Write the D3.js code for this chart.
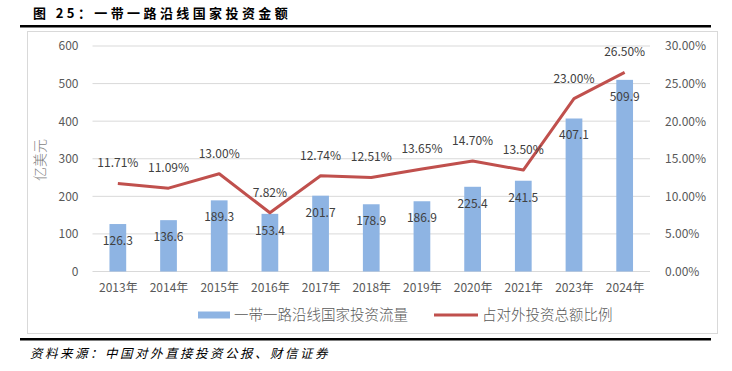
<!DOCTYPE html>
<html><head><meta charset="utf-8">
<script src="https://cdn.jsdelivr.net/npm/d3@7/dist/d3.min.js"></script>
<style>body{margin:0;background:#fff;}svg{display:block;}</style>
</head><body>
<svg id="c" width="732" height="371"></svg>
<script>
const categories = ["2013年","2014年","2015年","2016年","2017年","2018年","2019年","2020年","2021年","2023年","2024年"];
const flowValues = [126.3,136.6,189.3,153.4,201.7,178.9,186.9,225.4,241.5,407.1,509.9];
const shareValues = [11.71,11.09,13.00,7.82,12.74,12.51,13.65,14.70,13.50,23.00,26.50];
const leftTicks = [0,100,200,300,400,500,600];
const rightTicks = [0,5,10,15,20,25,30];
const titleText = "图 25：一带一路沿线国家投资金额";
const sourceText = "资料来源：中国对外直接投资公报、财信证券";
const seriesNames = ["一带一路沿线国家投资流量","占对外投资总额比例"];
const yTitle = "亿美元";

const svg = d3.select("#c");
const font = "'Noto Sans CJK SC', 'Open Sans', sans-serif";
const L = 92.5, R = 650, T = 46, B = 271.5;

// title & rules
svg.append("text").attr("x",33).attr("y",18).attr("font-family","'Noto Sans CJK SC', sans-serif")
  .attr("font-weight","bold").attr("font-size",13).attr("letter-spacing",3.4).attr("fill","#000").text(titleText);
svg.append("rect").attr("x",20).attr("y",25).attr("width",691).attr("height",2.5).attr("fill","#000");
svg.append("rect").attr("x",27.5).attr("y",31.5).attr("width",690).attr("height",302).attr("fill","none").attr("stroke","#d9d9d9");
svg.append("rect").attr("x",20).attr("y",338).attr("width",691).attr("height",2.5).attr("fill","#000");
svg.append("text").attr("x",30).attr("y",358).attr("font-family","'Noto Sans CJK SC', sans-serif")
  .attr("font-style","italic").attr("font-size",12.5).attr("letter-spacing",2.5).attr("fill","#000")
  .text(sourceText);

const x = d3.scaleBand().domain(categories).range([L,R]).paddingInner(0.67).paddingOuter(0.335);
const xc = d3.scalePoint().domain(categories).range([L,R]).padding(0.5);
const yL = d3.scaleLinear().domain([0,600]).range([B,T]);
const yR = d3.scaleLinear().domain([0,30]).range([B,T]);

// grid
svg.append("g").selectAll("line").data(leftTicks).join("line")
  .attr("x1",L).attr("x2",R).attr("y1",d=>yL(d)).attr("y2",d=>yL(d))
  .attr("stroke","#d9d9d9").attr("stroke-width",1);

// left axis
const gl = svg.append("g").attr("transform",`translate(${L},0)`)
  .call(d3.axisLeft(yL).tickValues(leftTicks).tickSize(0).tickPadding(14).tickFormat(d3.format("d")));
gl.select(".domain").remove();
gl.selectAll("text").attr("font-family",font).attr("font-size",12).attr("fill","#595959");

// right axis
const gr = svg.append("g").attr("transform",`translate(${R},0)`)
  .call(d3.axisRight(yR).tickValues(rightTicks).tickSize(0).tickPadding(15).tickFormat(d=>d.toFixed(2)+"%"));
gr.select(".domain").remove();
gr.selectAll("text").attr("font-family",font).attr("font-size",12).attr("fill","#595959");

// x axis
const gx = svg.append("g").attr("transform",`translate(0,${B})`)
  .call(d3.axisBottom(xc).tickSize(0).tickPadding(12));
gx.select(".domain").remove();
gx.selectAll("text").attr("font-family",font).attr("font-size",12).attr("fill","#595959");

// y title
svg.append("text").attr("transform","translate(45,160) rotate(-90)").attr("text-anchor","middle")
  .attr("font-family",font).attr("font-size",14).attr("font-weight",300).attr("fill","#7f7f7f").text(yTitle);

// bars
svg.append("g").selectAll("rect").data(flowValues).join("rect")
  .attr("x",(d,i)=>x(categories[i])).attr("width",x.bandwidth())
  .attr("y",d=>yL(d)).attr("height",d=>B-yL(d)).attr("fill","#8eb4e3");

svg.append("g").selectAll("text").data(flowValues).join("text")
  .attr("x",(d,i)=>xc(categories[i])).attr("y",d=>yL(d)+21).attr("text-anchor","middle")
  .attr("font-family",font).attr("font-size",12).attr("fill","#404040").text(d=>d.toFixed(1));

// line
const line = d3.line().x((d,i)=>xc(categories[i])).y(d=>yR(d));
svg.append("path").datum(shareValues).attr("d",line).attr("fill","none")
  .attr("stroke","#c0504d").attr("stroke-width",3).attr("stroke-linejoin","round");

svg.append("g").selectAll("text").data(shareValues).join("text")
  .attr("x",(d,i)=>xc(categories[i])).attr("y",d=>yR(d)-16).attr("text-anchor","middle")
  .attr("font-family",font).attr("font-size",12).attr("fill","#404040").text(d=>d.toFixed(2)+"%");

// legend
const lg = svg.append("g");
lg.append("rect").attr("x",198).attr("y",311.5).attr("width",32).attr("height",7).attr("fill","#8eb4e3");
lg.append("text").attr("x",234).attr("y",320).attr("font-family",font).attr("font-size",14.5).attr("font-weight",300).attr("fill","#595959").text(seriesNames[0]);
lg.append("line").attr("x1",434).attr("x2",478).attr("y1",315).attr("y2",315).attr("stroke","#c0504d").attr("stroke-width",3);
lg.append("text").attr("x",482).attr("y",320).attr("font-family",font).attr("font-size",14.5).attr("font-weight",300).attr("fill","#595959").text(seriesNames[1]);
</script>
</body></html>
